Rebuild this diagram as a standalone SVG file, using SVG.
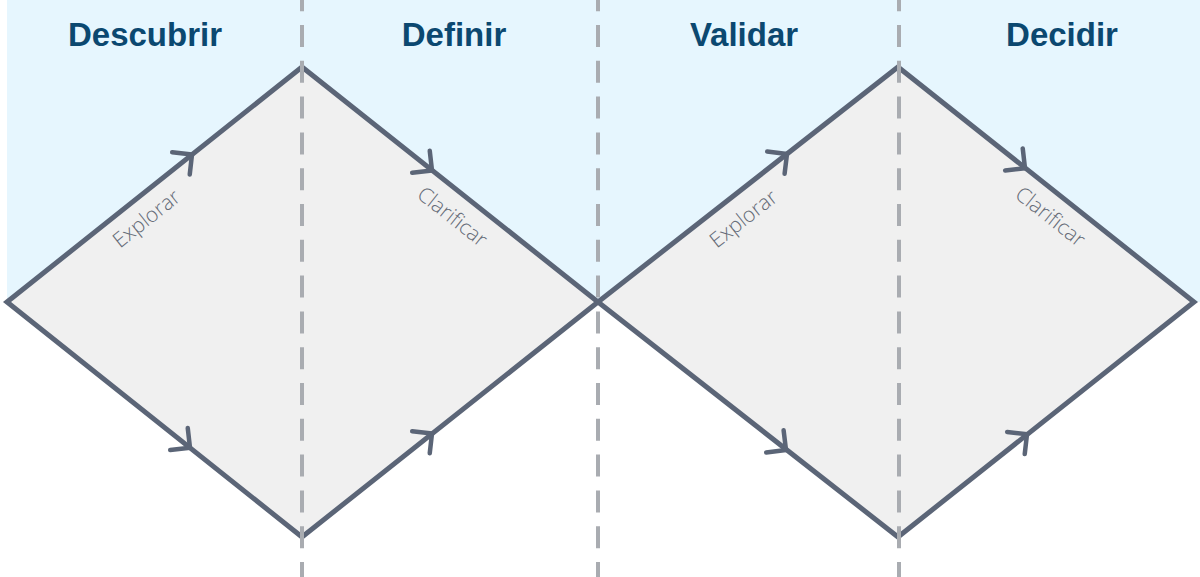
<svg xmlns="http://www.w3.org/2000/svg" width="1200" height="577" viewBox="0 0 1200 577">
<style>
.bg{fill:#e6f6fe}
.dia{fill:#f0f0f0;stroke:#5b6577;stroke-width:5;stroke-linejoin:miter}
.dash{stroke:#a9acb1;stroke-width:4;stroke-dasharray:22 13.8;stroke-dashoffset:-25;fill:none}
.chev{fill:none;stroke:#5b6577;stroke-width:4.5;stroke-linecap:round;stroke-linejoin:round}
.title{font-family:"Liberation Sans",Arial,sans-serif;font-weight:bold;font-size:33px;fill:#0b4870;text-anchor:middle}
.lbl{font-family:"Open Sans","Liberation Sans",sans-serif;font-weight:300;font-size:21px;fill:#656b77;text-anchor:middle;dominant-baseline:central}
</style>
<defs>
<path id="chev" class="chev" d="M-14.1,-14.1 L0,0 L-14.1,14.1"/>
</defs>
<rect class="bg" x="7" y="0" width="1193" height="302"/>
<g id="diamond-1">
<polygon class="dia" points="7,302 302,67 598,302 302,537"/>
</g>
<g id="diamond-2">
<polygon class="dia" points="598,302 898,67 1194,302 898,537"/>
</g>
<g id="dividers">
<line class="dash" x1="302" y1="0" x2="302" y2="577"/>
<line class="dash" x1="598" y1="0" x2="598" y2="577"/>
<line class="dash" x1="899" y1="0" x2="899" y2="577"/>
</g>
<g id="connectors">
<use href="#chev" transform="translate(192,154.6) rotate(-38.5)"/>
<use href="#chev" transform="translate(190,447.8) rotate(38.5)"/>
<use href="#chev" transform="translate(432,170.6) rotate(38.5)"/>
<use href="#chev" transform="translate(432,433.4) rotate(-38.5)"/>
<use href="#chev" transform="translate(787,154) rotate(-38.1)"/>
<use href="#chev" transform="translate(786,450) rotate(38.1)"/>
<use href="#chev" transform="translate(1025,168.2) rotate(38.5)"/>
<use href="#chev" transform="translate(1027,434.2) rotate(-38.5)"/>
</g>
<g id="labels">
<text class="lbl" transform="translate(146,218) rotate(-38.5)">Explorar</text>
<text class="lbl" transform="translate(453,216) rotate(38.5)">Clarificar</text>
<text class="lbl" transform="translate(743,218) rotate(-38.1)">Explorar</text>
<text class="lbl" transform="translate(1051,216) rotate(38.5)">Clarificar</text>
</g>
<g id="titles">
<text class="title" x="145" y="46">Descubrir</text>
<text class="title" x="454" y="46">Definir</text>
<text class="title" x="744" y="46">Validar</text>
<text class="title" x="1062" y="46">Decidir</text>
</g>
</svg>
